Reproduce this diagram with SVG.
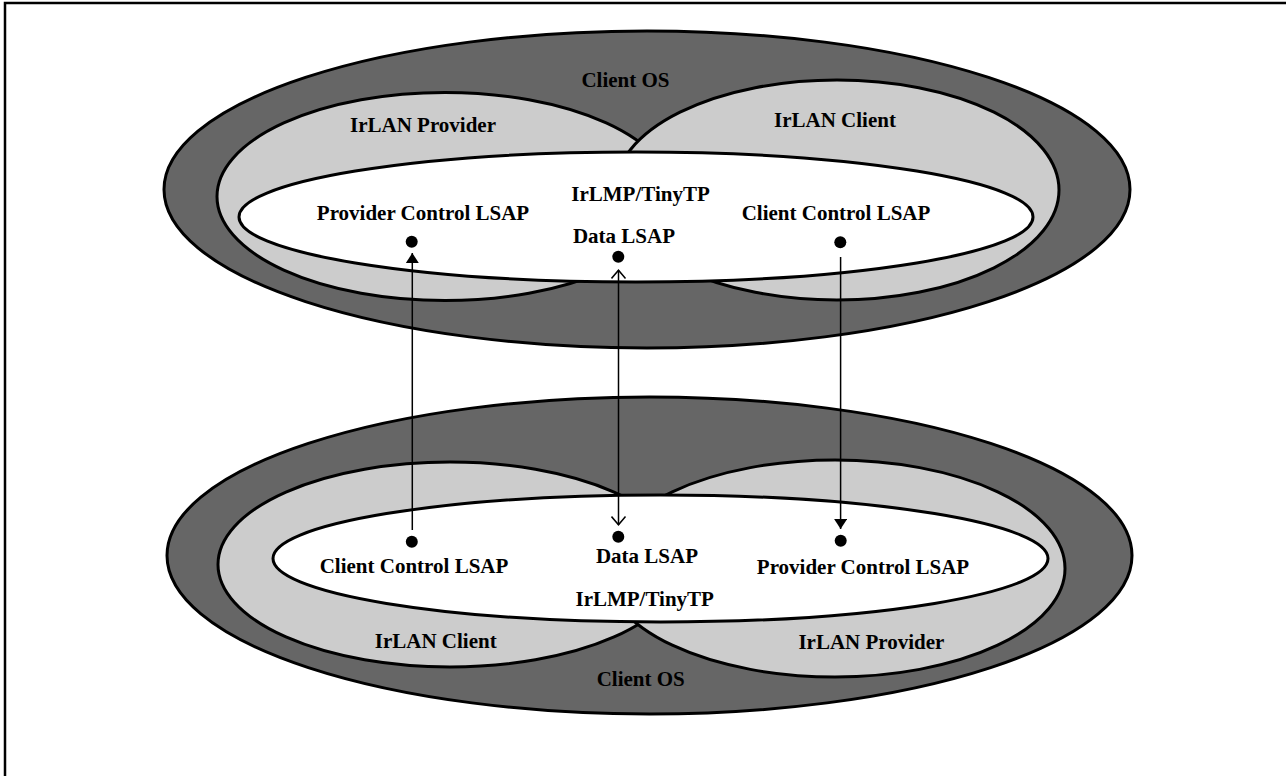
<svg xmlns="http://www.w3.org/2000/svg" width="1286" height="776" viewBox="0 0 1286 776">
<style>
.os{fill:#666666;stroke:#000;stroke-width:3}
.lan{fill:#cccccc;stroke:#000;stroke-width:3}
.lmp{fill:#ffffff;stroke:#000;stroke-width:3}
.t{font-family:"Liberation Serif","Times New Roman",serif;font-weight:bold;font-size:21px;fill:#000;text-anchor:middle}
.dot{fill:#000}
.c{stroke:#000;stroke-width:1.5;fill:none}
</style>
<defs>
<marker id="tri" viewBox="0 0 10 13" refX="10" refY="6.5" markerWidth="10" markerHeight="13" markerUnits="userSpaceOnUse" orient="auto"><path d="M0,0 L10,6.5 L0,13 z" fill="#000"/></marker>
<marker id="open" viewBox="0 0 10 16" refX="9.2" refY="8" markerWidth="10" markerHeight="16" markerUnits="userSpaceOnUse" orient="auto-start-reverse"><path d="M0.8,1 L9,8 L0.8,15" fill="none" stroke="#000" stroke-width="1.5"/></marker>
</defs>
<rect width="1286" height="776" fill="#fff"/>
<path d="M5,776 L5,3 L1286,3" fill="none" stroke="#000" stroke-width="2.5"/>

<g id="top-client-os">
<ellipse class="os" cx="647" cy="189.5" rx="483" ry="158.5"/>
<text class="t" x="625.5" y="87">Client OS</text>
</g>
<g id="top-irlan-provider">
<ellipse class="lan" cx="445" cy="196.5" rx="228" ry="104"/>
<text class="t" x="423" y="132">IrLAN Provider</text>
</g>
<g id="top-irlan-client">
<ellipse class="lan" cx="837" cy="190" rx="222" ry="110"/>
<text class="t" x="835" y="127">IrLAN Client</text>
</g>
<g id="top-irlmp">
<ellipse class="lmp" cx="636" cy="217" rx="397" ry="65"/>
<text class="t" x="640.5" y="201">IrLMP/TinyTP</text>
</g>
<g id="top-provider-control-lsap">
<text class="t" x="423" y="220">Provider Control LSAP</text>
<circle class="dot" cx="411.7" cy="241.7" r="6"/>
</g>
<g id="top-data-lsap">
<text class="t" x="624" y="243">Data LSAP</text>
<circle class="dot" cx="618.3" cy="256.7" r="6"/>
</g>
<g id="top-client-control-lsap">
<text class="t" x="836" y="220">Client Control LSAP</text>
<circle class="dot" cx="840.3" cy="242.3" r="6"/>
</g>

<g id="bottom-client-os">
<ellipse class="os" cx="649.5" cy="555.5" rx="482.5" ry="158.5"/>
<text class="t" x="640.7" y="686">Client OS</text>
</g>
<g id="bottom-irlan-client">
<ellipse class="lan" cx="450" cy="564.5" rx="232" ry="102.5"/>
<text class="t" x="435.7" y="648">IrLAN Client</text>
</g>
<g id="bottom-irlan-provider">
<ellipse class="lan" cx="835" cy="568.5" rx="230" ry="108.5"/>
<text class="t" x="871.4" y="649">IrLAN Provider</text>
</g>
<g id="bottom-irlmp">
<ellipse class="lmp" cx="660.5" cy="558.5" rx="387.5" ry="63.5"/>
<text class="t" x="644.7" y="606">IrLMP/TinyTP</text>
</g>
<g id="bottom-client-control-lsap">
<circle class="dot" cx="411.8" cy="541.7" r="6"/>
<text class="t" x="414" y="573">Client Control LSAP</text>
</g>
<g id="bottom-data-lsap">
<circle class="dot" cx="618.3" cy="536.7" r="6"/>
<text class="t" x="647" y="563">Data LSAP</text>
</g>
<g id="bottom-provider-control-lsap">
<circle class="dot" cx="840.7" cy="540.7" r="6"/>
<text class="t" x="863" y="574">Provider Control LSAP</text>
</g>

<g id="connectors">
<line class="c" x1="412.3" y1="530" x2="412.3" y2="253" marker-end="url(#tri)"/>
<line class="c" x1="618.5" y1="270" x2="618.5" y2="525" marker-start="url(#open)" marker-end="url(#open)"/>
<line class="c" x1="840.6" y1="257" x2="840.6" y2="529" marker-end="url(#tri)"/>
</g>
</svg>
